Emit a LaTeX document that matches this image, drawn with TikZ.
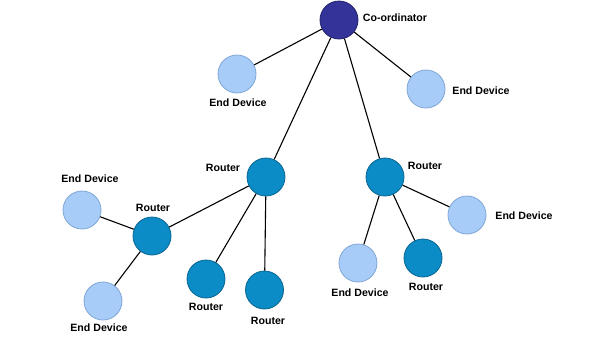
\documentclass[tikz,border=0pt]{standalone}
\usepackage{fontspec}
\setmainfont{Liberation Sans}
\definecolor{CoordFill}{HTML}{333399}
\definecolor{CoordDraw}{HTML}{22226E}
\definecolor{RouterFill}{HTML}{0C8CC6}
\definecolor{RouterDraw}{HTML}{0A6590}
\definecolor{DeviceFill}{HTML}{A8CCF8}
\definecolor{DeviceDraw}{HTML}{7EA6D6}
\usepackage{tikz}
\usetikzlibrary{positioning}
\tikzset{
    dev/.style={
        circle,
        draw=#1,
        line width=0.8pt,
        minimum size=38pt,
        inner sep=0pt
    },
    coord/.style={dev=CoordDraw, fill=CoordFill},
    router/.style={dev=RouterDraw, fill=RouterFill},
    enddev/.style={dev=DeviceDraw, fill=DeviceFill},
    tag/.style={
        font=\fontsize{10.6}{12}\selectfont\bfseries,
        inner sep=0pt,
        text=black
    },
    link/.style={
        line width=1.1pt,
        black
    }
}

\begin{document}
\begin{tikzpicture}[x=1pt, y=-1pt]
        \useasboundingbox[fill=white] (0,0) rectangle (589,338);

        % Co-ordinator
        \node[coord] (co) at (339,20) {};
        \node[tag] (cotxt) at (395,18) {Co-ordinator};

        % Upper end devices
        \node[enddev] (ed1) at (237,74) {};
        \node[tag] (ed1txt) at (238,103) {End Device};
        \node[enddev] (ed2) at (426,89) {};
        \node[tag] (ed2txt) at (481,91) {End Device};

        % Routers of the middle row
        \node[router] (r1) at (266,177) {};
        \node[tag] (r1txt) at (223,168) {Router};
        \node[router] (r2) at (385,177) {};
        \node[tag] (r2txt) at (425,166) {Router};

        % Left branch
        \node[router] (r3) at (152,236) {};
        \node[tag] (r3txt) at (153,208) {Router};
        \node[enddev] (ed3) at (82,210) {};
        \node[tag] (ed3txt) at (90,179) {End Device};
        \node[enddev] (ed4) at (103,301) {};
        \node[tag] (ed4txt) at (99,328) {End Device};
        \node[router] (r4) at (206,279) {};
        \node[tag] (r4txt) at (206,307) {Router};
        \node[router] (r5) at (264.5,290) {};
        \node[tag] (r5txt) at (268,321) {Router};

        % Right branch
        \node[enddev] (ed5) at (358,263) {};
        \node[tag] (ed5txt) at (360,293) {End Device};
        \node[router] (r6) at (423,258) {};
        \node[tag] (r6txt) at (426,287) {Router};
        \node[enddev] (ed6) at (467,215) {};
        \node[tag] (ed6txt) at (524,216) {End Device};

        % Links
        \draw[link] (co) -- (ed1);
        \draw[link] (co) -- (ed2);
        \draw[link] (co) -- (r1);
        \draw[link] (co) -- (r2);
        \draw[link] (r1) -- (r3);
        \draw[link] (r1) -- (r4);
        \draw[link] (r1) -- (r5);
        \draw[link] (r3) -- (ed3);
        \draw[link] (r3) -- (ed4);
        \draw[link] (r2) -- (ed5);
        \draw[link] (r2) -- (r6);
        \draw[link] (r2) -- (ed6);
    \end{tikzpicture}
\end{document}
